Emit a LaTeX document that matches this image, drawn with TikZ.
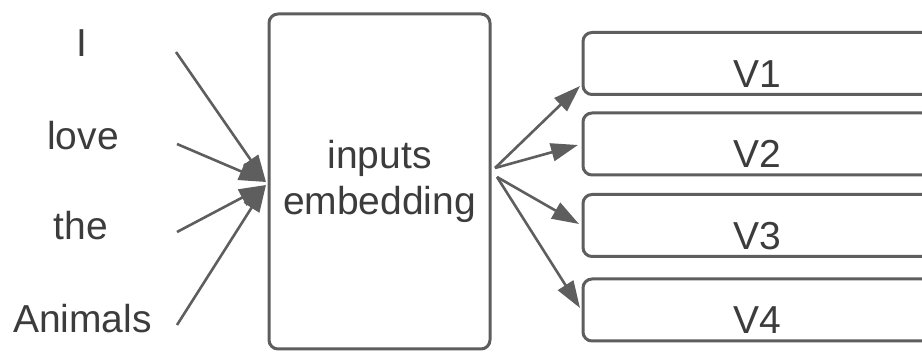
\documentclass[tikz,border=0pt]{standalone}
\usepackage{fontspec}
\setmainfont{Liberation Sans}
\usetikzlibrary{arrows.meta}
\definecolor{linegray}{HTML}{5E5E5E}
\definecolor{textgray}{HTML}{3C3C3C}
\tikzset{
  word/.style={anchor=base, inner sep=0pt, text=textgray, font=\fontsize{39}{46}\selectfont},
  rbox/.style={draw=linegray, line width=3pt, rounded corners=9pt, fill=white, inner sep=0pt},
  vbox/.style={rbox, minimum width=348pt, minimum height=62pt},
  conn/.style={draw=linegray, line width=2.6pt, -{Triangle[length=27pt,width=18pt]}, shorten >=0pt}
}
\begin{document}
\begin{tikzpicture}[x=1pt,y=-1pt]
\useasboundingbox (0,0) rectangle (922,352);
% words
\node[word] (w1) at (82,57) {I};
\node[word] (w2) at (83,150) {love};
\node[word] (w3) at (81,240) {the};
\node[word] (w4) at (82.5,333) {Animals};
% embedding box
\node[rbox, minimum width=221pt, minimum height=335pt, align=center, text=textgray,
      font=\fontsize{39}{46}\selectfont] (emb) at (379.5,181.5) {inputs\\embedding};
% V boxes
\node[vbox, label={[word, yshift=8.5pt]south:V1}] (v1) at (757,63.5) {};
\node[vbox, label={[word, yshift=8.5pt]south:V2}] (v2) at (757,144) {};
\node[vbox, label={[word, yshift=8.5pt]south:V3}] (v3) at (757,225.5) {};
\node[vbox, label={[word, yshift=8.5pt]south:V4}] (v4) at (757,310) {};
% connector ends
\coordinate (s1) at (176,52);
\coordinate (s2) at (177,144);
\coordinate (s3) at (177,232);
\coordinate (s4) at (177,325);
\coordinate (tu) at (266,182);
\coordinate (tl) at (266,185);
\coordinate (ou) at (495,168);
\coordinate (ol) at (497,177);
\coordinate (e1) at (580,86);
\coordinate (e2) at (578,145);
\coordinate (e3) at (579,224);
\coordinate (e4) at (580,308);
% connectors
\draw[conn] (s1) -- (tu);
\draw[conn] (s2) -- (tu);
\draw[conn] (s3) -- (tl);
\draw[conn] (s4) -- (tl);
\draw[conn] (ou) -- (e1);
\draw[conn] (ou) -- (e2);
\draw[conn] (ol) -- (e3);
\draw[conn] (ol) -- (e4);
\end{tikzpicture}
\end{document}
